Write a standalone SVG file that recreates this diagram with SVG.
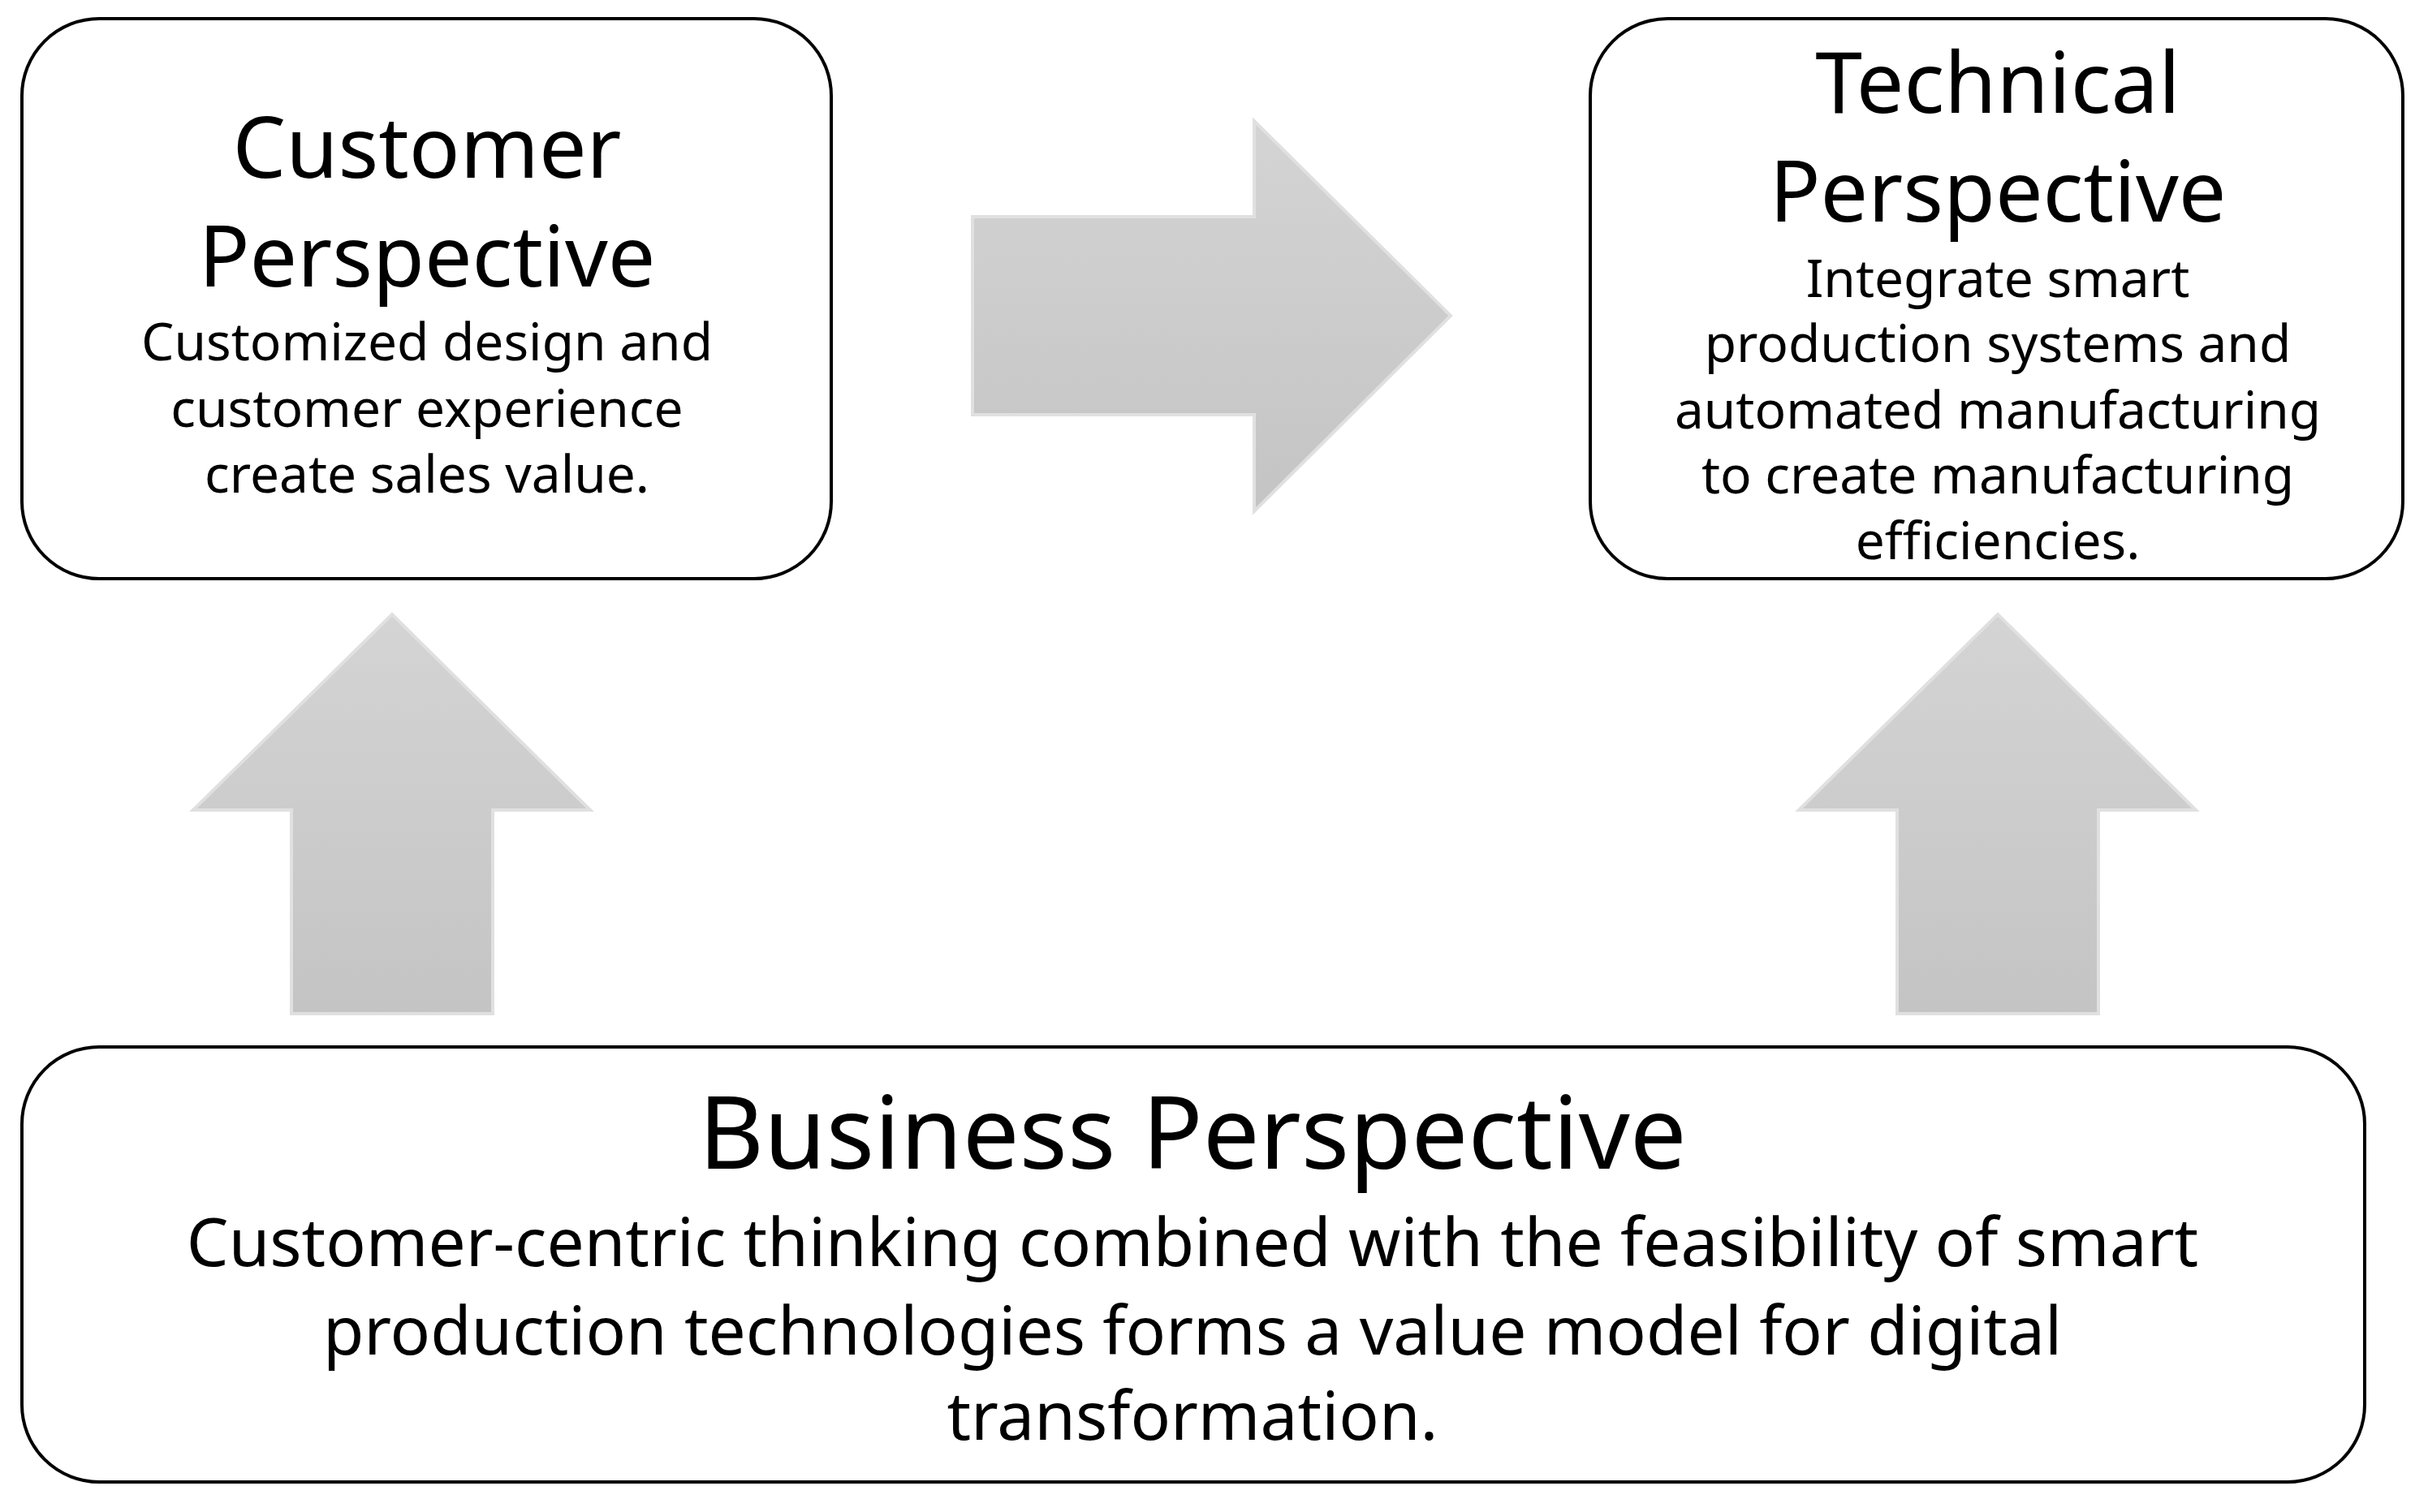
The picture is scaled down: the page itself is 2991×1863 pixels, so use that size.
<svg xmlns="http://www.w3.org/2000/svg" width="2991" height="1863" viewBox="0 0 2991 1863">
<style>
.box{fill:#fff;stroke:#000;stroke-width:4}
.arr{fill:url(#g);stroke:#e0e0e0;stroke-width:4}
text{font-family:"Noto Sans","Open Sans",sans-serif;text-anchor:middle;fill:#000}
.t{font-size:104px}
.b{font-size:64px}
.bt{font-size:124px}
.bb{font-size:82px}
</style>
<defs>
<linearGradient id="g" x1="0" y1="0" x2="0" y2="1"><stop offset="0" stop-color="#d4d4d4"/><stop offset="1" stop-color="#c4c4c4"/></linearGradient>
</defs>
<g id="connectors">
<path class="arr" d="M1198,267 H1545 V149 L1787,389 L1545,630 V511 H1198 Z"/>
<path class="arr" d="M483,757 L727,998 H607 V1249 H359 V998 H238 Z"/>
<path class="arr" d="M2461,757 L2705,998 H2585 V1249 H2337 V998 H2216 Z"/>
</g>
<g id="customer">
<rect class="box" x="27" y="23" width="997" height="690" rx="95"/>
<text class="t" x="526" y="219">Customer</text>
<text class="t" x="526" y="353">Perspective</text>
<text class="b" x="526" y="444">Customized design and</text>
<text class="b" x="526" y="526">customer experience</text>
<text class="b" x="526" y="607">create sales value.</text>
</g>
<g id="technical">
<rect class="box" x="1959" y="23" width="1001" height="690" rx="95"/>
<text class="t" x="2461" y="139">Technical</text>
<text class="t" x="2461" y="273">Perspective</text>
<text class="b" x="2461" y="366">Integrate smart</text>
<text class="b" x="2461" y="446">production systems and</text>
<text class="b" x="2461" y="528">automated manufacturing</text>
<text class="b" x="2461" y="608">to create manufacturing</text>
<text class="b" x="2461" y="689">efficiencies.</text>
</g>
<g id="business">
<rect class="box" x="27" y="1290" width="2886" height="536" rx="95"/>
<text class="bt" x="1469" y="1440">Business Perspective</text>
<text class="bb" x="1469" y="1560">Customer-centric thinking combined with the feasibility of smart</text>
<text class="bb" x="1469" y="1669">production technologies forms a value model for digital</text>
<text class="bb" x="1469" y="1774">transformation.</text>
</g>
</svg>
